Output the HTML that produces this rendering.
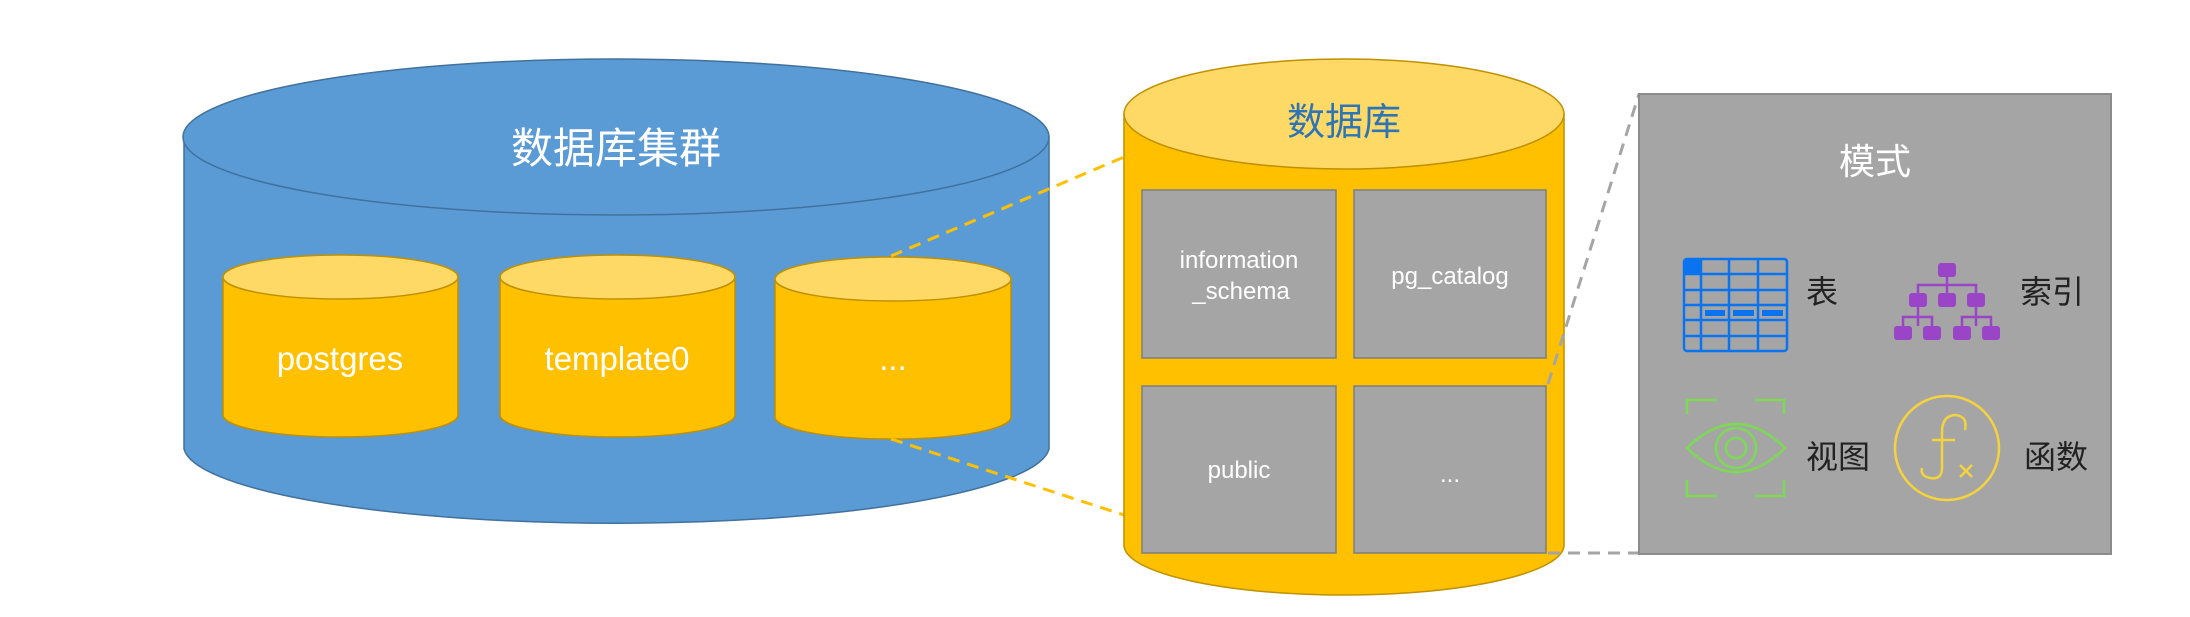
<!DOCTYPE html>
<html><head><meta charset="utf-8"><style>
html,body{margin:0;padding:0;background:#fff;}
svg{display:block;}
text{font-family:"Liberation Sans","Noto Sans CJK SC",sans-serif;}
</style></head><body>
<svg width="2190" height="617" viewBox="0 0 2190 617" xmlns="http://www.w3.org/2000/svg">
<rect width="2190" height="617" fill="#fff"/>
<!-- cluster cylinder -->
<path d="M184 137 L184 449 A433 78 0 0 0 1049 449 L1049 137 Z" fill="#5B9BD5" stroke="#41719C" stroke-width="1.5"/>
<ellipse cx="616" cy="137" rx="433" ry="78" fill="#5B9BD5" stroke="#41719C" stroke-width="1.5"/>
<text x="616" y="163" font-size="42" fill="#fff" text-anchor="middle">数据库集群</text>
<!-- small cylinders -->
<g stroke="#BF9000" stroke-width="1.5">
<path d="M223 277 L223 415 A117.5 22 0 0 0 458 415 L458 277 Z" fill="#FFC000"/>
<ellipse cx="340.5" cy="277" rx="117.5" ry="22" fill="#FFD966"/>
<path d="M500 277 L500 415 A117.5 22 0 0 0 735 415 L735 277 Z" fill="#FFC000"/>
<ellipse cx="617.5" cy="277" rx="117.5" ry="22" fill="#FFD966"/>
<path d="M775 279 L775 417 A118 22 0 0 0 1011 417 L1011 279 Z" fill="#FFC000"/>
<ellipse cx="893" cy="279" rx="118" ry="22" fill="#FFD966"/>
</g>
<text x="340" y="370" font-size="33" fill="#fff" text-anchor="middle">postgres</text>
<text x="617" y="370" font-size="33" fill="#fff" text-anchor="middle">template0</text>
<text x="893" y="370" font-size="33" fill="#fff" text-anchor="middle">...</text>
<!-- yellow dashed connectors -->
<line x1="891" y1="256" x2="1124" y2="157" stroke="#FFC000" stroke-width="3" stroke-dasharray="12 8"/>
<line x1="891" y1="439" x2="1124" y2="515" stroke="#FFC000" stroke-width="3" stroke-dasharray="12 8"/>
<!-- database cylinder -->
<path d="M1124 114 L1124 545 A220 50 0 0 0 1564 545 L1564 114 Z" fill="#FFC000" stroke="#BF9000" stroke-width="1.5"/>
<ellipse cx="1344" cy="114" rx="220" ry="55" fill="#FFD966" stroke="#BF9000" stroke-width="1.5"/>
<text x="1344" y="135" font-size="38" fill="#2E75B6" text-anchor="middle">数据库</text>
<g fill="#A5A5A5" stroke="#7F7F7F" stroke-width="1.5">
<rect x="1142" y="190" width="194" height="168"/>
<rect x="1354" y="190" width="192" height="168"/>
<rect x="1142" y="386" width="194" height="167"/>
<rect x="1354" y="386" width="192" height="167"/>
</g>
<g font-size="24" fill="#fff" text-anchor="middle">
<text x="1239" y="268">information</text>
<text x="1241" y="299">_schema</text>
<text x="1450" y="284">pg_catalog</text>
<text x="1239" y="478">public</text>
<text x="1450" y="482">...</text>
</g>
<!-- grey dashed connectors -->
<line x1="1548" y1="384" x2="1639" y2="94" stroke="#A5A5A5" stroke-width="3" stroke-dasharray="12 8"/>
<line x1="1548" y1="553" x2="1639" y2="553" stroke="#A5A5A5" stroke-width="3" stroke-dasharray="12 8"/>
<!-- schema panel -->
<rect x="1639" y="94" width="472" height="460" fill="#A5A5A5" stroke="#8C8C8C" stroke-width="2"/>
<text x="1875" y="174" font-size="36" fill="#fff" text-anchor="middle">模式</text>
<!-- table icon -->
<g stroke="#0A74F0" stroke-width="2.5" fill="none">
<rect x="1684" y="259" width="103" height="92" rx="3"/>
<line x1="1701" y1="259" x2="1701" y2="351"/>
<line x1="1729" y1="259" x2="1729" y2="351"/>
<line x1="1758" y1="259" x2="1758" y2="351"/>
<line x1="1684" y1="274" x2="1787" y2="274"/>
<line x1="1684" y1="290" x2="1787" y2="290"/>
<line x1="1684" y1="305" x2="1787" y2="305"/>
<line x1="1684" y1="320" x2="1787" y2="320"/>
<line x1="1684" y1="336" x2="1787" y2="336"/>
</g>
<rect x="1684" y="259" width="17" height="15" fill="#0A74F0"/>
<g fill="#0A74F0"><rect x="1705" y="310" width="20" height="6"/><rect x="1733" y="310" width="21" height="6"/><rect x="1762" y="310" width="21" height="6"/></g>
<text x="1806" y="303" font-size="32" fill="#222">表</text>
<!-- index tree -->
<g stroke="#9A44C8" stroke-width="2.5" fill="none">
<line x1="1947" y1="277" x2="1947" y2="293"/>
<polyline points="1918,293 1918,285 1976,285 1976,293"/>
<line x1="1918" y1="307" x2="1918" y2="326"/>
<polyline points="1903,326 1903,317 1932,317 1932,326"/>
<line x1="1976" y1="307" x2="1976" y2="326"/>
<polyline points="1962,326 1962,317 1991,317 1991,326"/>
</g>
<g fill="#9A44C8">
<rect x="1938" y="263" width="18" height="14" rx="3"/>
<rect x="1909" y="293" width="18" height="14" rx="3"/><rect x="1938" y="293" width="18" height="14" rx="3"/><rect x="1967" y="293" width="18" height="14" rx="3"/>
<rect x="1894" y="326" width="18" height="14" rx="3"/><rect x="1923" y="326" width="18" height="14" rx="3"/><rect x="1953" y="326" width="18" height="14" rx="3"/><rect x="1982" y="326" width="18" height="14" rx="3"/>
</g>
<text x="2020" y="303" font-size="32" fill="#222">索引</text>
<!-- eye icon -->
<g stroke="#7ED957" stroke-width="2.5" fill="none">
<polyline points="1687,414 1687,400 1717,400"/>
<polyline points="1755,400 1784,400 1784,414"/>
<polyline points="1687,480 1687,496 1717,496"/>
<polyline points="1755,496 1784,496 1784,480"/>
<path d="M1687 448 Q1736 400 1785 448 Q1736 496 1687 448 Z"/>
<circle cx="1736" cy="448" r="20"/>
<circle cx="1736" cy="448" r="10"/>
</g>
<text x="1806" y="468" font-size="32" fill="#222">视图</text>
<!-- fx icon -->
<g stroke="#F5D33C" stroke-width="2.5" fill="none">
<circle cx="1947" cy="448" r="52"/>
<path d="M1965 430 Q1968 416 1955 415 Q1942 416 1942 432 L1942 468 Q1942 480 1930 478 Q1920 476 1922 468"/>
<line x1="1932" y1="440" x2="1955" y2="440"/>
<line x1="1960" y1="465" x2="1972" y2="477"/>
<line x1="1972" y1="465" x2="1960" y2="477"/>
</g>
<text x="2024" y="468" font-size="32" fill="#222">函数</text>
</svg>
</body></html>
